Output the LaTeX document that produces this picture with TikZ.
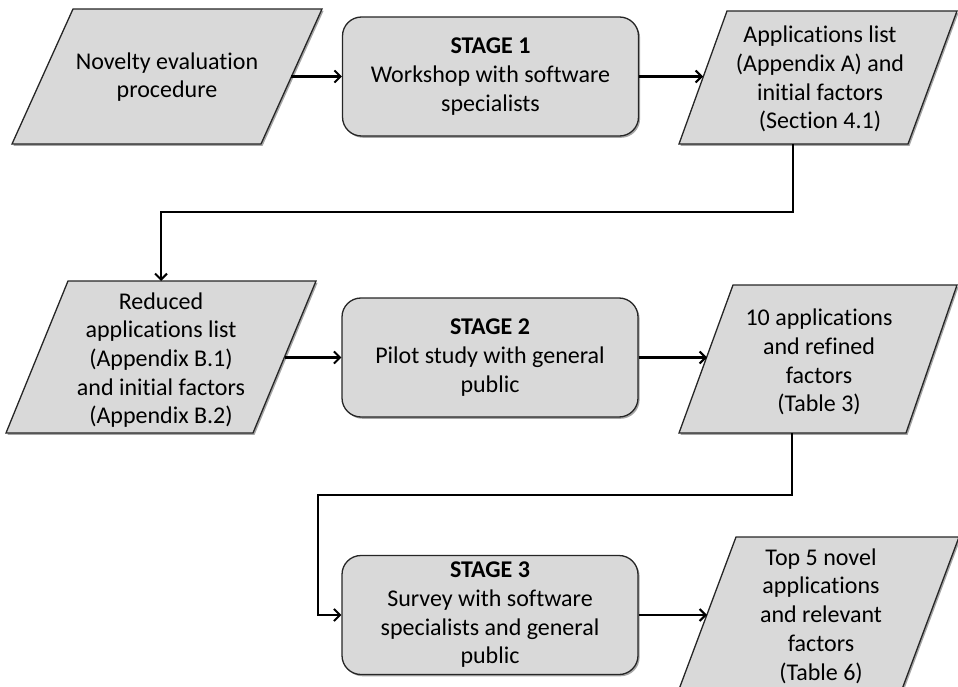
\documentclass[tikz,border=0pt]{standalone}
\usepackage{fontspec}
\setmainfont{Carlito}[Ligatures=NoCommon]
\usetikzlibrary{arrows.meta,shadows}
\definecolor{boxfill}{HTML}{D9D9D9}
\definecolor{boxline}{HTML}{262626}
\tikzset{
  shade/.style={drop shadow={shadow xshift=1.6pt,shadow yshift=-1.8pt,fill=black,opacity=0.35}},
  stagebox/.style={draw=boxline,line width=1.3pt,fill=boxfill,rounded corners=19pt,
    minimum width=296pt,minimum height=119pt,align=center,inner sep=0pt,shade},
  databox/.style={draw=boxline,line width=1.3pt,fill=boxfill,shade},
  txt/.style={align=center,inner sep=0pt},
  arr/.style={line width=2.3pt,black,-{Straight Barb[length=6pt,width=12pt,line width=2pt]}},
}
\begin{document}
\begin{tikzpicture}[x=1pt,y=-1pt,font=\fontsize{24}{28.7}\selectfont]
\useasboundingbox (0,0) rectangle (958,687);
\clip (0,0) rectangle (958,687);
% data shapes (parallelograms)
\path[databox] (73,9) -- (322,9) -- (261,144) -- (12,144) -- cycle;
\path[databox] (727,11) -- (957,11) -- (908,144) -- (679,144) -- cycle;
\path[databox] (68,281) -- (316,281) -- (253,433) -- (6,433) -- cycle;
\path[databox] (733,285) -- (957,285) -- (906,433) -- (679,433) -- cycle;
\path[databox] (736,537) -- (959,537) -- (898,700) -- (675,700) -- cycle;
% texts of data shapes
\node[txt] (p1) at (167,77) {Novelty evaluation\\procedure};
\node[txt] (p2) at (820,79) {Applications list\\(Appendix A) and\\initial factors\\(Section 4.1)};
\node[txt] (p3) at (161,360) {Reduced\\applications list\\(Appendix B.1)\\and initial factors\\(Appendix B.2)};
\node[txt] (p4) at (819,362) {10 applications\\and refined\\factors\\(Table 3)};
\node[txt] (p5) at (821,616) {Top 5 novel\\applications\\and relevant\\factors\\(Table 6)};
% stage boxes
\node[stagebox] (s1) at (490.5,76.5) {\textbf{STAGE 1}\\Workshop with software\\specialists};
\node[stagebox] (s2) at (490,357.5) {\textbf{STAGE 2}\\Pilot study with general\\public};
\node[stagebox] (s3) at (490,615) {\textbf{STAGE 3}\\Survey with software\\specialists and general\\public};
% connector end points on the data shapes
\coordinate (p1r) at (291,76.5);
\coordinate (p2l) at (703,76.5);
\coordinate (p2b) at (793,144);
\coordinate (p3t) at (161,281);
\coordinate (p3r) at (285,357.5);
\coordinate (p4l) at (707,357.5);
\coordinate (p4b) at (792,433);
\coordinate (p5l) at (707,615);
\coordinate (b1) at (793,212);
\coordinate (b2) at (161,212);
\coordinate (b3) at (792,495);
\coordinate (b4) at (318,495);
% connectors
\draw[arr] (p1r) -- (s1.west);
\draw[arr] (s1.east) -- (p2l);
\draw[arr] (p2b) -- (b1) -- (b2) -- (p3t);
\draw[arr] (p3r) -- (s2.west);
\draw[arr] (s2.east) -- (p4l);
\draw[arr] (p4b) -- (b3) -- (b4) |- (s3.west);
\draw[arr] (s3.east) -- (p5l);
\end{tikzpicture}
\end{document}
